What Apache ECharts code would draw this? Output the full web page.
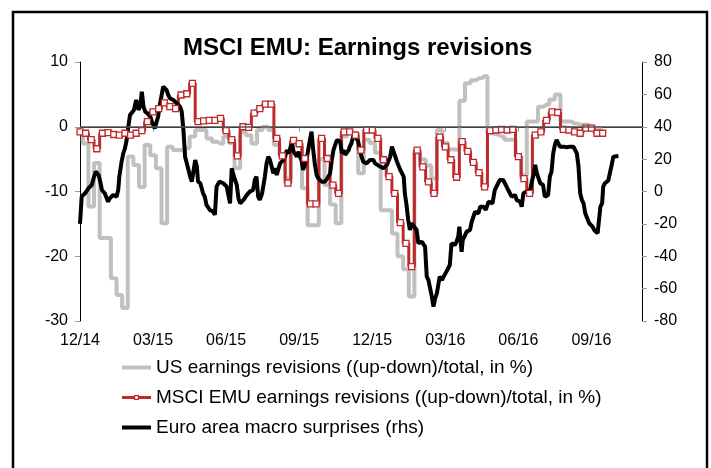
<!DOCTYPE html>
<html>
<head>
<meta charset="utf-8">
<script src="https://cdn.jsdelivr.net/npm/echarts@6.0.0/dist/echarts.min.js"></script>
<style>
  html, body { margin: 0; padding: 0; background: #fff; }
  #main { width: 711px; height: 468px; }
</style>
</head>
<body>
<div id="main"></div>
<script>
// x axis: weeks since start of Dec 2014
const weekTicks = [0, 13, 26, 39, 52, 65, 78, 91]
const weekLabels = ['12/14', '03/15', '06/15', '09/15', '12/15', '03/16', '06/16', '09/16']

// US earnings revisions, weekly (lhs)
const usRevisions = [
  -0.8, -2.6, -12.3, -5.6, -17.2, -17.2, -23.4, -26.0, -28.0, -4.6,
  -5.9, -9.3, -2.8, -4.4, -6.4, -14.9, -3.1, -3.6, -3.6, -3.3,
  -1.5, -0.5, -0.5, -1.8, -2.3, -2.6, -1.5, -2.5, -6.4, -0.8,
  -1.3, -2.6, -0.5, 0.0, -0.5, -2.8, -4.3, -8.0, -2.5, -3.0,
  -9.5, -15.2, -15.2, -5.0, -9.0, -12.0, -14.9, -1.5, -1.0, -1.0,
  -7.2, -2.0, -2.5, -4.0, -12.9, -12.9, -16.5, -20.0, -22.0, -26.2,
  -4.0, -5.0, -6.0, -8.0, -0.5, -2.5, -3.5, -3.5, 4.0, 6.7,
  7.2, 7.5, 7.8, -1.0, -1.2, -1.5, -2.0, -2.0, -4.5, -7.5,
  0.8, 0.8, 3.1, 3.4, 4.2, 5.0, 0.8, 0.8, 0.5, 0.3,
  0.3, 0.0, -0.2, -0.2
]

// MSCI EMU earnings revisions, weekly (lhs)
const emuRevisions = [
  -0.8, -1.0, -2.0, -3.4, -1.0, -0.9, -1.2, -1.3, -1.0, -1.3,
  -1.0, -0.6, 0.8, 2.3, 2.8, 3.7, 3.1, 2.8, 4.9, 5.1,
  6.7, 0.8, 0.9, 1.0, 1.0, 1.3, -0.6, -2.0, -4.5, 0.0,
  -0.1, 2.1, 2.8, 3.5, 3.5, -1.8, -4.5, -8.7, -2.1, -2.6,
  -4.9, -11.9, -11.9, -1.8, -4.9, -9.0, -10.3, -0.8, -0.8, -1.3,
  -3.6, -0.5, -0.5, -1.8, -5.1, -7.7, -10.3, -14.8, -18.0, -21.6,
  -3.6, -6.2, -8.5, -10.3, -1.6, -3.1, -5.1, -7.8, -2.3, -3.8,
  -5.5, -7.1, -9.3, -0.6, -0.5, -0.4, -0.5, -0.4, -4.6, -8.0,
  -10.3, -1.3, -0.8, 1.0, 2.3, 2.2, -0.4, -0.5, -0.8, -1.0,
  -0.2, -0.2, -1.0, -1.0
]

// Euro area macro surprises (rhs): week position and value
const macroWeek = [
  0, 0.3, 0.9, 1.5, 2.1, 2.4, 2.8, 3.3, 3.6, 3.9, 4.4, 5.0, 5.3, 5.9, 6.2, 6.5, 6.8, 7.0, 7.4, 7.7,
  8.0, 8.3, 8.6, 8.9, 9.2, 9.6, 10.0, 10.4, 10.7, 11.0, 11.3, 11.6, 12.0, 12.5, 12.8, 13.3, 13.6, 13.9, 14.2, 14.5,
  14.8, 15.1, 15.4, 15.7, 16.0, 16.6, 17.2, 17.8, 18.1, 18.4, 18.7, 19.0, 19.3, 19.6, 19.9, 20.2, 20.5, 20.8, 21.0, 21.4,
  21.6, 21.9, 22.2, 22.5, 23.1, 23.7, 24.0, 24.3, 24.8, 25.5, 26.1, 26.4, 26.7, 27.0, 27.3, 27.9, 28.2, 28.5, 29.1, 29.7,
  30.2, 30.8, 31.1, 31.4, 31.7, 32.0, 32.4, 32.6, 32.9, 33.2, 33.5, 33.8, 34.1, 34.4, 34.7, 35.0, 35.3, 35.6, 36.2, 36.5,
  36.8, 37.1, 37.4, 37.7, 38.0, 38.3, 38.6, 38.9, 39.1, 39.4, 39.7, 40.0, 40.3, 40.6, 40.9, 41.2, 41.5, 41.8, 42.1, 42.4,
  42.7, 43.0, 43.6, 43.9, 44.2, 44.5, 44.8, 45.1, 45.7, 46.0, 46.3, 46.6, 46.9, 47.2, 47.5, 47.8, 48.0, 48.3, 48.6, 48.9,
  49.2, 49.5, 49.8, 50.1, 50.4, 50.7, 51.0, 51.6, 51.9, 52.2, 52.5, 52.8, 53.4, 54.0, 54.6, 55.2, 55.5, 55.8, 56.1, 56.4,
  57.0, 57.6, 57.8, 58.1, 58.4, 58.7, 59.0, 59.3, 59.9, 60.2, 60.8, 61.1, 61.4, 61.7, 62.0, 62.3, 62.6, 62.9, 63.2, 63.5,
  63.8, 64.0, 64.4, 64.7, 65.2, 65.8, 66.1, 66.7, 67.0, 67.3, 67.5, 67.9, 68.1, 68.4, 68.8, 69.4, 69.7, 70.0, 70.3, 70.6,
  70.9, 71.2, 71.8, 72.2, 72.4, 72.7, 73.0, 73.4, 73.6, 73.8, 74.1, 74.4, 74.7, 75.0, 75.3, 75.6, 75.9, 76.2, 76.5, 76.8,
  77.4, 77.7, 78.0, 78.3, 78.6, 78.9, 79.2, 79.5, 79.8, 80.1, 80.4, 80.7, 81.0, 81.3, 81.6, 81.9, 82.1, 82.4, 82.7, 83.0,
  83.3, 83.6, 83.9, 84.2, 84.5, 84.8, 85.1, 85.4, 86.0, 86.6, 87.2, 87.8, 88.1, 88.4, 88.7, 89.0, 89.3, 89.6, 89.9, 90.2,
  90.6, 90.9, 91.2, 91.5, 91.8, 92.1, 92.4, 92.6, 92.9, 93.1, 93.4, 93.7, 94.0, 94.3, 94.6, 94.9, 95.2, 95.8
]
const macroValue = [
  -20.0, -3.2, -1.1, 2.0, 4.0, 8.1, 12.3, 10.2, 6.1, 0.9, -1.1, -6.3, -4.2, -2.1, -1.1, -3.2, 0.9, 9.2, 18.4, 23.6,
  26.7, 31.8, 40.1, 47.3, 48.3, 50.4, 56.5, 50.4, 52.4, 61.7, 52.4, 49.3, 48.3, 46.2, 43.1, 39.0, 40.1, 46.2, 53.4, 54.5,
  64.8, 63.7, 62.7, 59.6, 57.6, 56.5, 54.5, 52.4, 49.3, 38.0, 21.5, 17.4, 16.4, 9.2, 6.1, 7.1, 19.5, 15.4, 6.1, 5.1,
  4.0, -1.1, -3.2, -8.3, -11.4, -12.4, -14.5, 3.0, 6.1, 5.1, 3.0, -2.1, -7.3, 14.3, 10.2, 4.0, -4.2, -7.3, -5.2, -2.1,
  -0.1, 0.9, 7.1, 9.2, -3.2, -5.2, -1.1, 3.0, 9.2, 17.4, 21.5, 19.5, 15.4, 11.2, 14.3, 10.2, 11.2, 17.4, 19.5, 21.5,
  25.6, 23.6, 26.7, 29.8, 24.6, 25.6, 21.5, 24.6, 21.5, 19.5, 13.3, 16.4, 19.5, 25.6, 31.8, 37.0, 25.6, 16.4, 10.2, 8.1,
  7.1, 6.1, 6.1, 7.1, 9.2, 11.2, 19.5, 25.6, 31.8, 32.9, 30.8, 23.6, 25.6, 22.6, 23.6, 25.6, 27.7, 29.8, 33.9, 35.0,
  32.9, 30.8, 25.6, 21.5, 18.4, 17.4, 17.4, 19.5, 18.4, 19.5, 17.4, 16.4, 15.4, 14.3, 16.4, 21.5, 27.7, 24.6, 21.5, 18.4,
  13.3, 9.2, -1.1, -8.3, -17.6, -23.8, -19.6, -19.6, -23.8, -32.0, -31.0, -32.0, -34.1, -52.6, -54.7, -54.7, -65.0, -71.1, -65.9, -62.9,
  -56.7, -52.6, -54.7, -52.6, -49.5, -45.4, -32.0, -33.1, -31.0, -27.9, -21.7, -37.2, -30.0, -27.9, -24.8, -23.8, -18.7, -15.6, -12.5, -11.4,
  -13.5, -9.4, -9.4, -11.4, -9.4, -6.3, -7.3, -7.3, -3.2, 0.9, 1.9, 5.1, 7.1, 8.1, 7.1, 5.1, 3.0, 0.9, -1.1, -3.2,
  -2.1, -5.2, -4.2, -6.3, -9.4, -1.1, -1.1, 0.0, 0.9, 0.9, 6.1, 10.2, 16.4, 11.2, 8.1, 5.1, 6.1, 4.0, -3.2, -3.2,
  -2.1, 9.2, 12.3, 23.6, 28.8, 31.8, 30.8, 27.7, 27.7, 27.3, 27.7, 27.7, 28.8, 23.6, 15.4, -1.1, -5.2, -7.3, -13.5, -14.5,
  -19.6, -20.7, -21.7, -23.8, -24.8, -25.8, -25.4, -9.4, -7.3, 3.0, 5.1, 6.1, 6.8, 7.1, 16.4, 21.5, 21.9, 21.9
]

const FONT = '"Liberation Sans", Arial, sans-serif'
const RED = '#c0282a'
const GREY = '#c0c0c0'

// legend icons: plain thick bar, and bar with a hollow square in the middle
const barIcon = 'path://M0,0H29V4H0Z'
const markerIcon = 'path://M0,1H12V0H17V1H29V4H17V5H12V4H0Z M13.2,1.2V3.8H15.8V1.2Z'

const chart = echarts.init(document.getElementById('main'))

const option = {
  animation: false,
  backgroundColor: '#fff',
  textStyle: { fontFamily: FONT },
  title: {
    text: 'MSCI EMU: Earnings revisions',
    left: 178,
    top: 31,
    textStyle: { fontSize: 24, fontWeight: 'bold', color: '#000', fontFamily: FONT }
  },
  // outer frame
  graphic: [
    {
      type: 'rect',
      silent: true,
      shape: { x: 13, y: 12, width: 694, height: 480 },
      style: { fill: 'none', stroke: '#000', lineWidth: 2.5 }
    }
  ],
  legend: {
    orient: 'vertical',
    left: 117,
    top: 353,
    itemWidth: 29,
    itemHeight: 14,
    itemGap: 11,
    textStyle: { fontSize: 19, color: '#000', fontFamily: FONT },
    data: [
      { name: 'US earnings revisions ((up-down)/total, in %)', icon: barIcon, itemStyle: { color: GREY, borderWidth: 0 } },
      { name: 'MSCI EMU earnings revisions ((up-down)/total, in %)', icon: markerIcon, itemStyle: { color: RED, borderWidth: 0 } },
      { name: 'Euro area macro surprises (rhs)', icon: barIcon, itemStyle: { color: '#000', borderWidth: 0 } }
    ]
  },
  grid: { left: 80, right: 69, top: 62, bottom: 147 },
  xAxis: {
    type: 'value',
    min: 0,
    max: 100,
    axisLine: { lineStyle: { color: '#000', width: 1 } },
    axisTick: { customValues: weekTicks, length: 5, lineStyle: { color: '#999' } },
    axisLabel: {
      customValues: weekTicks,
      formatter: (v) => weekLabels[weekTicks.indexOf(v)],
      fontSize: 16,
      color: '#000',
      margin: 12
    },
    splitLine: { show: false }
  },
  yAxis: [
    {
      type: 'value',
      position: 'left',
      min: -30,
      max: 10,
      interval: 10,
      axisLine: { show: true, lineStyle: { color: '#000', width: 1 } },
      axisTick: { show: true, length: 5, lineStyle: { color: '#999' } },
      axisLabel: { fontSize: 16, color: '#000', margin: 12 },
      splitLine: { show: false }
    },
    {
      type: 'value',
      position: 'right',
      min: -80,
      max: 80,
      interval: 20,
      axisLine: { show: true, lineStyle: { color: '#000', width: 1 } },
      axisTick: { show: true, length: 5, lineStyle: { color: '#999' } },
      axisLabel: { fontSize: 16, color: '#000', margin: 12 },
      splitLine: { show: false }
    }
  ],
  series: [
    {
      name: 'US earnings revisions ((up-down)/total, in %)',
      type: 'line',
      yAxisIndex: 0,
      step: 'middle',
      symbol: 'none',
      lineStyle: { color: GREY, width: 4 },
      itemStyle: { color: GREY },
      data: usRevisions.map((v, i) => [i, v]),
      // zero line of the lhs axis
      markLine: {
        silent: true,
        symbol: 'none',
        label: { show: false },
        lineStyle: { color: '#555', width: 1.5, type: 'solid' },
        data: [{ yAxis: 0 }]
      }
    },
    {
      name: 'MSCI EMU earnings revisions ((up-down)/total, in %)',
      type: 'line',
      yAxisIndex: 0,
      step: 'middle',
      symbol: 'rect',
      symbolSize: 6,
      showAllSymbol: true,
      lineStyle: { color: RED, width: 3 },
      itemStyle: { color: '#fff', borderColor: RED, borderWidth: 1.3 },
      data: emuRevisions.map((v, i) => [i, v])
    },
    {
      name: 'Euro area macro surprises (rhs)',
      type: 'line',
      yAxisIndex: 1,
      symbol: 'none',
      lineStyle: { color: '#000', width: 4 },
      itemStyle: { color: '#000' },
      data: macroWeek.map((w, i) => [w, macroValue[i]])
    }
  ]
}

chart.setOption(option)
</script>
</body>
</html>
